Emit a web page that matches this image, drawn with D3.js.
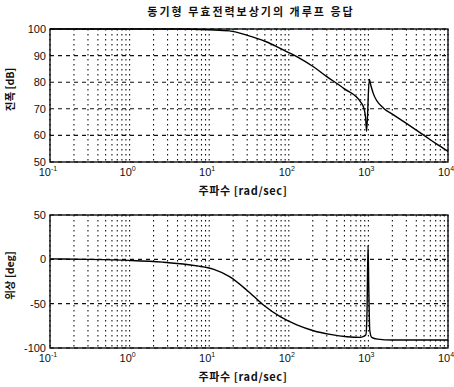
<!DOCTYPE html>
<html>
<head>
<meta charset="utf-8">
<script src="https://cdn.jsdelivr.net/npm/d3@7"></script>
<style>
  body { margin: 0; background: #fff; }
  svg { font-family: Arial, "Liberation Sans", "Noto Sans CJK KR", sans-serif; }
  .tick-label { font-size: 11px; fill: #111; }
  .kr { font-family: "Noto Sans CJK KR", sans-serif; font-weight: bold; fill: #111; }
</style>
</head>
<body>
<div id="chart"></div>
<script>
// values
var titleText = "동기형 무효전력보상기의 개루프 응답";
var xLabelText = "주파수 [rad/sec]";
var magLabelText = "진폭 [dB]";
var phaseLabelText = "위상 [deg]";

var xDecades = [-1, 0, 1, 2, 3, 4];
var magTicks = [50, 60, 70, 80, 90, 100];
var phaseTicks = [-100, -50, 0, 50];

var magFreq = [0.1, 1, 4.3, 10, 18, 29.5, 52, 78, 126, 204, 300, 500, 800, 870, 920, 950, 1025, 1080, 1150, 1550, 2000, 3000, 5000, 7000, 10000];
var magDb =   [100, 100, 100, 99.7, 99.3, 97.7, 95.2, 92.7, 89.6, 85.8, 82.1, 77.5, 72.5, 70.5, 67, 61.5, 81, 78.5, 75.8, 70.2, 68, 64.5, 60, 57, 54];

var phaseFreq = [0.1, 0.3, 1, 2.6, 7, 11.2, 18, 29.5, 48, 78, 126, 204, 330, 540, 800, 930, 960, 990, 1010, 1040, 1100, 1300, 2000, 10000];
var phaseDeg =  [0.5, 0, -1.2, -3.2, -7.4, -11, -19.5, -34.5, -51.5, -64.7, -74, -80.5, -84.6, -87.3, -88, -85, -60, 16, -30, -80, -88, -90, -91, -91];

var W = 454, H = 387;
var svg = d3.select("#chart").append("svg").attr("width", W).attr("height", H);

var x = d3.scaleLog().domain([0.1, 10000]).range([50, 448]);

function drawPanel(cfg) {
  var y = d3.scaleLinear().domain(cfg.domain).range(cfg.range);
  var g = svg.append("g");
  var x0 = x.range()[0], x1 = x.range()[1];
  var yTop = cfg.range[1], yBot = cfg.range[0];

  // vertical grid: major + minor, dotted
  var vLines = [];
  xDecades.forEach(function (d) {
    for (var k = 1; k <= 9; k++) {
      var v = k * Math.pow(10, d);
      if (v >= 0.1 && v <= 10000) vLines.push(v);
    }
  });
  g.selectAll(".vgrid").data(vLines).enter().append("line")
    .attr("x1", function (d) { return x(d); })
    .attr("x2", function (d) { return x(d); })
    .attr("y1", yTop).attr("y2", yBot)
    .attr("stroke", "#111").attr("stroke-width", 1.1)
    .attr("stroke-dasharray", "1.5,3.5");

  // horizontal grid: dashed
  g.selectAll(".hgrid").data(cfg.ticks).enter().append("line")
    .attr("x1", x0).attr("x2", x1)
    .attr("y1", function (d) { return y(d); })
    .attr("y2", function (d) { return y(d); })
    .attr("stroke", "#111").attr("stroke-width", 1.1)
    .attr("stroke-dasharray", "4,4");

  // curve
  var pts = cfg.freq.map(function (f, i) { return [f, cfg.vals[i]]; });
  var line = d3.line()
    .x(function (d) { return x(d[0]); })
    .y(function (d) { return y(d[1]); })
    .curve(d3.curveMonotoneX);
  g.append("path").datum(pts)
    .attr("d", line)
    .attr("fill", "none")
    .attr("stroke", "#000")
    .attr("stroke-width", 1.4);

  // frame
  g.append("rect")
    .attr("x", x0).attr("y", yTop)
    .attr("width", x1 - x0).attr("height", yBot - yTop)
    .attr("fill", "none").attr("stroke", "#000").attr("stroke-width", 1.3);

  // y tick labels
  g.selectAll(".ylab").data(cfg.ticks).enter().append("text")
    .attr("class", "tick-label")
    .attr("x", x0 - 4)
    .attr("y", function (d) { return y(d) + 4; })
    .attr("text-anchor", "end")
    .text(function (d) { return d; });

  // x tick labels 10^n
  var xl = g.selectAll(".xlab").data(xDecades).enter().append("text")
    .attr("class", "tick-label")
    .attr("x", function (d) { return x(Math.pow(10, d)) - 2; })
    .attr("y", yBot + 14)
    .attr("text-anchor", "middle");
  xl.append("tspan").text("10");
  xl.append("tspan").attr("dy", -5).attr("font-size", 7)
    .text(function (d) { return d; });

  // x label
  svg.append("text").attr("class", "kr")
    .attr("x", 243).attr("y", yBot + 33)
    .attr("text-anchor", "middle").attr("font-size", 11)
    .attr("letter-spacing", 0.6)
    .text(xLabelText);

  // y label
  var cy = (yTop + yBot) / 2 - 6;
  svg.append("text").attr("class", "kr")
    .attr("transform", "translate(14," + cy + ") rotate(-90)")
    .attr("text-anchor", "middle").attr("font-size", 10.5)
    .text(cfg.label);
}

drawPanel({ domain: [50, 100], range: [162, 29], ticks: magTicks, freq: magFreq, vals: magDb, label: magLabelText });
drawPanel({ domain: [-100, 50], range: [348, 215], ticks: phaseTicks, freq: phaseFreq, vals: phaseDeg, label: phaseLabelText });

svg.append("text").attr("class", "kr")
  .attr("x", 251).attr("y", 16)
  .attr("text-anchor", "middle").attr("font-size", 11)
  .attr("letter-spacing", 2)
  .text(titleText);
</script>
</body>
</html>
